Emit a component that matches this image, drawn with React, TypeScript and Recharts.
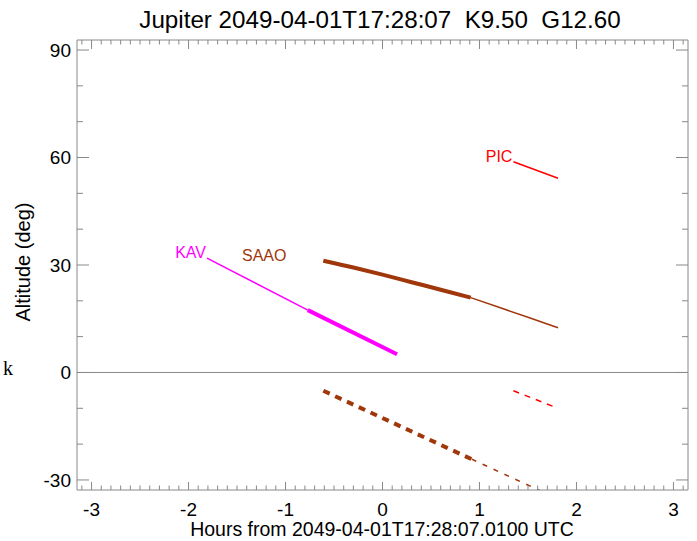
import React from "react";
import { LineChart, Line, XAxis, YAxis, ReferenceLine, ReferenceDot, Customized } from "recharts";

// hours from 2049-04-01T17:28:07 vs altitude (deg)
const kavThin = [
  { x: -1.81, y: 31.9 },
  { x: -0.77, y: 17.4 },
];
const kavThick = [
  { x: -0.77, y: 17.4 },
  { x: 0.15, y: 5.1 },
];
const saaoThick = [
  { x: -0.61, y: 31.2 },
  { x: -0.3, y: 29.3 },
  { x: 0.0, y: 27.3 },
  { x: 0.3, y: 25.2 },
  { x: 0.6, y: 23.1 },
  { x: 0.91, y: 20.9 },
];
const saaoThin = [
  { x: 0.91, y: 20.9 },
  { x: 1.2, y: 18.2 },
  { x: 1.5, y: 15.4 },
  { x: 1.81, y: 12.5 },
];
const saaoBelowThick = [
  { x: -0.61, y: -5.1 },
  { x: 0.92, y: -24.2 },
];
const saaoBelowThin = [
  { x: 0.92, y: -24.2 },
  { x: 1.81, y: -35.3 },
];
const picUp = [
  { x: 1.35, y: 58.8 },
  { x: 1.81, y: 54.2 },
];
const picBelow = [
  { x: 1.35, y: -5.1 },
  { x: 1.81, y: -10.0 },
];

const siteLabels = [
  { name: "KAV", x: -1.81, y: 31.9, color: "#ff00ff" },
  { name: "SAAO", x: -0.98, y: 31.2, color: "#a0370a" },
  { name: "PIC", x: 1.35, y: 58.8, color: "#ff0000" },
];

const xMajor = [-3, -2, -1, 0, 1, 2, 3];
const yMajor = [-30, 0, 30, 60, 90];
const xDomain = [-3.15, 3.15];
const yDomain = [-32.8, 92.8];

const xTicks: number[] = [];
for (let i = -31; i <= 31; i++) xTicks.push(i / 10);
const yTicks: number[] = [];
for (let v = -30; v <= 90; v += 10) yTicks.push(v);

const GRAY = "#888888";
const FONT = "'Liberation Sans', Arial, Helvetica, sans-serif";
const SAAO = "#a0370a";

const isMajorX = (v: number) => xMajor.some((m) => Math.abs(m - v) < 1e-6);
const isMajorY = (v: number) => yMajor.includes(v);

const BottomTick = ({ x, y, payload }: any) => {
  const major = isMajorX(payload.value);
  return (
    <g>
      <line x1={x} x2={x} y1={y} y2={y - (major ? 8 : 4.5)} stroke={GRAY} />
      {major && (
        <text x={x} y={y + 26} textAnchor="middle" fontSize={19} fontFamily={FONT} fill="#000">
          {payload.value}
        </text>
      )}
    </g>
  );
};

const TopTick = ({ x, y, payload }: any) => {
  const major = isMajorX(payload.value);
  return <line x1={x} x2={x} y1={y} y2={y + (major ? 9 : 4.5)} stroke={GRAY} />;
};

const LeftTick = ({ x, y, payload }: any) => {
  const major = isMajorY(payload.value);
  return (
    <g>
      <line x1={x} x2={x + (major ? 12 : 6)} y1={y} y2={y} stroke={GRAY} />
      {major && (
        <text x={x - 6} y={y} dy="0.36em" textAnchor="end" fontSize={19} fontFamily={FONT} fill="#000">
          {payload.value}
        </text>
      )}
    </g>
  );
};

const RightTick = ({ x, y, payload }: any) => {
  const major = isMajorY(payload.value);
  return <line x1={x} x2={x - (major ? 12 : 6)} y1={y} y2={y} stroke={GRAY} />;
};

const Texts = () => (
  <g>
    <text x={380} y={28} textAnchor="middle" fontSize={24.2} fontFamily={FONT} style={{ whiteSpace: "pre" }}>
      {"Jupiter 2049-04-01T17:28:07  K9.50  G12.60"}
    </text>
    <text x={382} y={536} textAnchor="middle" fontSize={19.5} fontFamily={FONT}>
      Hours from 2049-04-01T17:28:07.0100 UTC
    </text>
    <text
      x={23}
      y={262}
      textAnchor="middle"
      dominantBaseline="central"
      fontSize={20}
      fontFamily={FONT}
      transform="rotate(-90 23 262)"
    >
      Altitude (deg)
    </text>
    <text x={3} y={375} fontSize={20} fontFamily="'Liberation Serif', 'DejaVu Serif', serif">
      k
    </text>
  </g>
);

const seg = (data: any[], color: string, width: number, dash?: string, key?: string) => (
  <Line
    key={key}
    data={data}
    dataKey="y"
    xAxisId="b"
    yAxisId="l"
    type="monotone"
    stroke={color}
    strokeWidth={width}
    strokeDasharray={dash}
    dot={false}
    activeDot={false}
    isAnimationActive={false}
  />
);

export default function App() {
  return (
    <div style={{ position: "absolute", left: 0, top: 0, background: "#fff" }}>
      <LineChart width={697} height={541} margin={{ top: 39, right: 8, bottom: 21, left: 37 }}>
        <XAxis
          xAxisId="b"
          dataKey="x"
          type="number"
          orientation="bottom"
          domain={xDomain}
          allowDataOverflow
          ticks={xTicks}
          interval={0}
          height={30}
          tickSize={0}
          tickMargin={0}
          tickLine={false}
          axisLine={{ stroke: GRAY }}
          tick={<BottomTick />}
        />
        <XAxis
          xAxisId="t"
          dataKey="x"
          type="number"
          orientation="top"
          domain={xDomain}
          allowDataOverflow
          ticks={xTicks}
          interval={0}
          height={1}
          tickSize={0}
          tickMargin={0}
          tickLine={false}
          axisLine={{ stroke: GRAY }}
          tick={<TopTick />}
        />
        <YAxis
          yAxisId="l"
          type="number"
          orientation="left"
          domain={yDomain}
          allowDataOverflow
          ticks={yTicks}
          interval={0}
          width={40}
          tickSize={0}
          tickMargin={0}
          tickLine={false}
          axisLine={{ stroke: GRAY }}
          tick={<LeftTick />}
        />
        <YAxis
          yAxisId="r"
          type="number"
          orientation="right"
          domain={yDomain}
          allowDataOverflow
          ticks={yTicks}
          interval={0}
          width={1}
          tickSize={0}
          tickMargin={0}
          tickLine={false}
          axisLine={{ stroke: GRAY }}
          tick={<RightTick />}
        />
        <ReferenceLine xAxisId="b" yAxisId="l" y={0} stroke={GRAY} strokeWidth={1} />
        {seg(kavThin, "#ff00ff", 1.5, undefined, "kav1")}
        {seg(kavThick, "#ff00ff", 4, undefined, "kav2")}
        {seg(saaoThick, SAAO, 4, undefined, "saao1")}
        {seg(saaoThin, SAAO, 1.5, undefined, "saao2")}
        {seg(saaoBelowThick, SAAO, 4, "7 6", "saao3")}
        {seg(saaoBelowThin, SAAO, 1.5, "5 7", "saao4")}
        {seg(picUp, "#ff0000", 1.5, undefined, "pic1")}
        {seg(picBelow, "#ff0000", 1.5, "6 6", "pic2")}
        {siteLabels.map((s) => (
          <ReferenceDot
            key={s.name}
            xAxisId="b"
            yAxisId="l"
            x={s.x}
            y={s.y}
            r={0}
            shape={(p: any) => (
              <text x={p.cx - 1} y={p.cy} textAnchor="end" fontSize={16} fontFamily={FONT} fill={s.color}>
                {s.name}
              </text>
            )}
          />
        ))}
        <Customized component={Texts} />
      </LineChart>
    </div>
  );
}
